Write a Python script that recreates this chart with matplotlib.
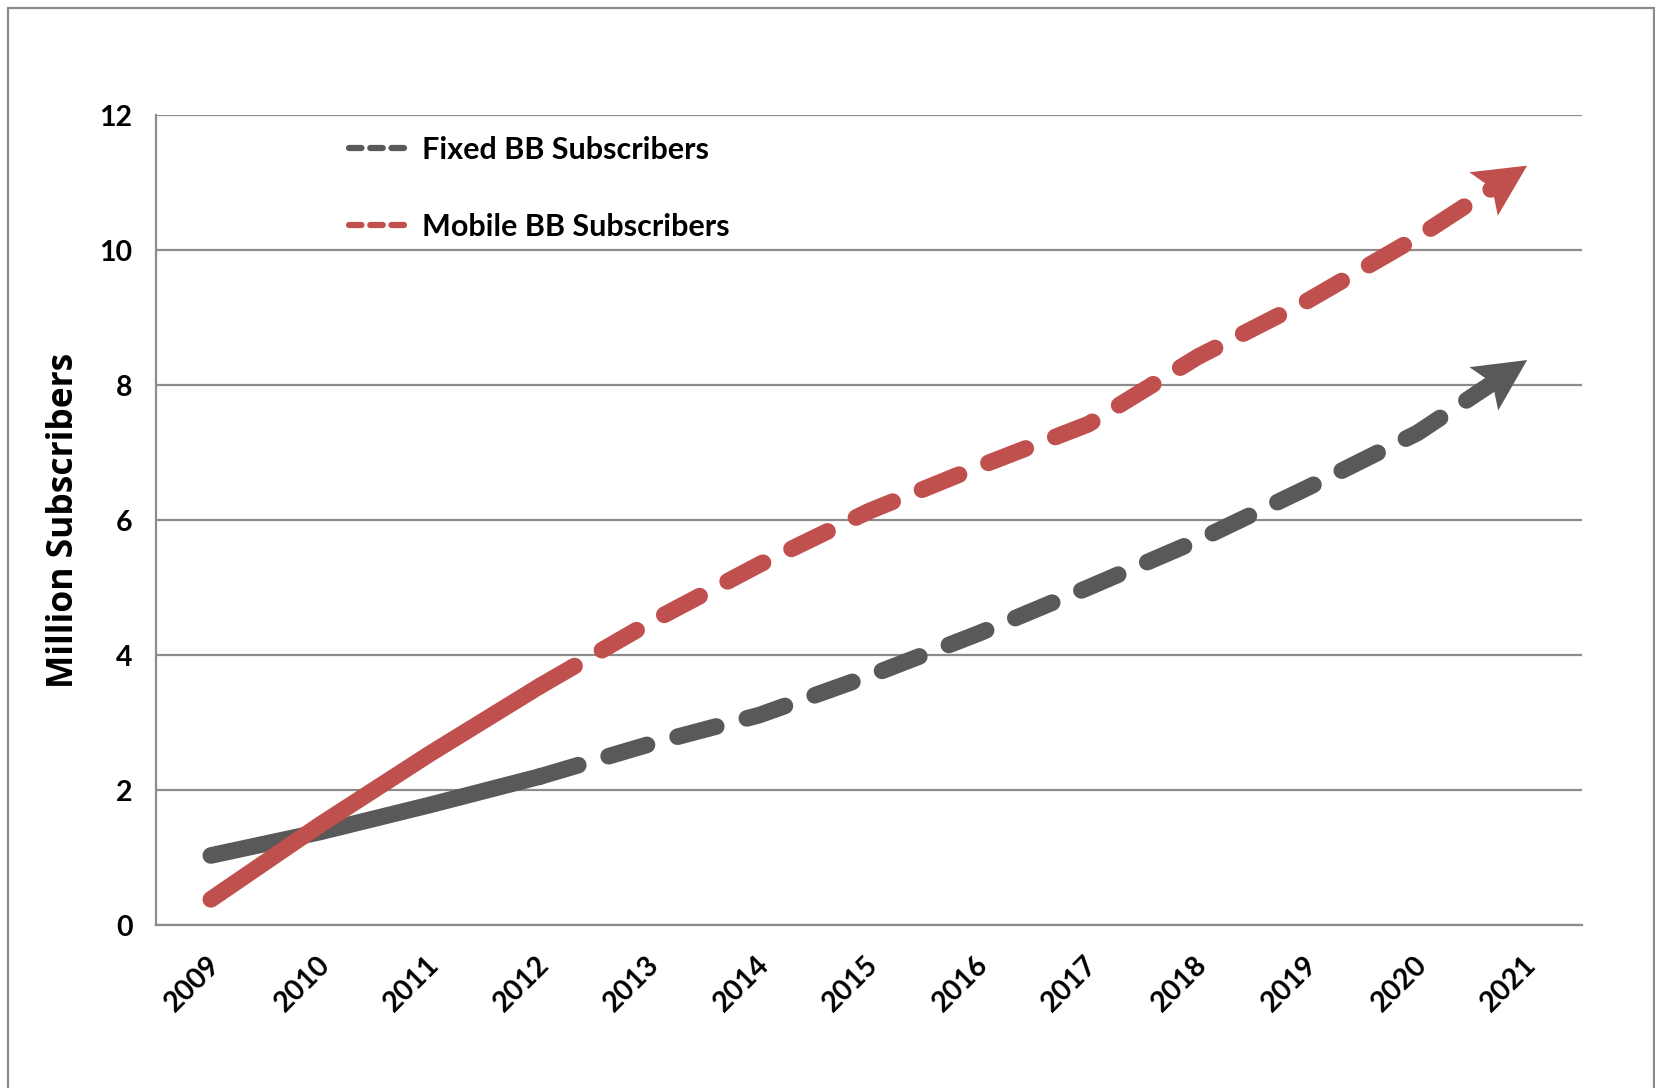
import numpy as np
import matplotlib.pyplot as plt
import matplotlib.transforms as mtrans
from matplotlib.lines import Line2D
from matplotlib.patches import Polygon, Rectangle

years = ['2009', '2010', '2011', '2012', '2013', '2014', '2015',
         '2016', '2017', '2018', '2019', '2020', '2021']
fixed_bb = [1.03, 1.38, 1.78, 2.2, 2.68, 3.11, 3.69, 4.32, 5.0, 5.7, 6.48, 7.29, 8.37]
mobile_bb = [0.38, 1.49, 2.54, 3.54, 4.48, 5.34, 6.13, 6.79, 7.42, 8.42, 9.25, 10.19, 11.25]

c_fixed = '#595959'
c_mobile = '#c0504d'
c_grid = '#8c8c8c'
tick_font = 'Lato'

fig = plt.figure(figsize=(16.56, 10.88), dpi=100)
ax = fig.add_axes([0.0942, 0.1498, 0.8611, 0.7445])
ax.set_xlim(-0.5, len(years) - 0.5)
ax.set_ylim(0, 12)

x = np.arange(len(years))
lw = 12.0


def draw_series(vals, col):
	vals = np.array(vals, dtype=float)
	# solid part 2009-2012
	ax.plot(x[:4], vals[:4], color=col, lw=lw, solid_capstyle='round', solid_joinstyle='round', zorder=3)
	# arrow head in pixel space (stealth shape), line stops at its notch
	tip = ax.transData.transform((x[-1], vals[-1]))
	prev = ax.transData.transform((x[-2], vals[-2]))
	u = (tip - prev) / np.hypot(*(tip - prev))
	n = np.array([-u[1], u[0]])
	L, W = 52.0, 26.0
	head_px = [tip, tip - L * u + W * n, tip - 0.8 * L * u, tip - L * u - W * n]
	head = ax.transData.inverted().transform(head_px)
	end = ax.transData.inverted().transform(tip - 0.8 * L * u)
	xd = np.append(x[3:-1], end[0])
	yd = np.append(vals[3:-1], end[1])
	ax.plot(xd, yd, color=col, lw=lw, linestyle=(0, (2.4, 1.9)), dash_capstyle='round', zorder=3)
	ax.add_patch(Polygon(head, closed=True, color=col, lw=0, zorder=4))


draw_series(fixed_bb, c_fixed)
draw_series(mobile_bb, c_mobile)

ax.set_yticks(np.arange(0, 13, 2))
ax.set_xticks(x)
ax.tick_params(axis='both', length=0)
ax.tick_params(axis='y', pad=17)
ax.tick_params(axis='x', pad=19)
ax.set_xticklabels(years, rotation=45, ha='right', rotation_mode='anchor',
	fontsize=20.5, fontweight='bold', family=tick_font)
shift = mtrans.ScaledTranslation(-4 / 100, 0, fig.dpi_scale_trans)
for lab in ax.get_xticklabels():
	lab.set_transform(lab.get_transform() + shift)
for lab in ax.get_yticklabels():
	lab.set_fontsize(20.5)
	lab.set_fontweight('bold')
	lab.set_family(tick_font)

ax.grid(axis='y', color=c_grid, lw=1.6)
ax.set_axisbelow(True)
for s in ['top', 'right']:
	ax.spines[s].set_visible(False)
for s in ['left', 'bottom']:
	ax.spines[s].set_color(c_grid)
	ax.spines[s].set_linewidth(1.6)

ax.set_ylabel('Million Subscribers', fontsize=25.5, fontweight='bold', family='Open Sans')
ax.yaxis.set_label_coords(-0.052, 0.5)

handles = [Line2D([], [], color=c_fixed, lw=4.5, linestyle=(0, (2.0, 1.4)), dash_capstyle='round'),
	Line2D([], [], color=c_mobile, lw=4.5, linestyle=(0, (2.0, 1.4)), dash_capstyle='round')]
leg = ax.legend(handles, ['Fixed BB Subscribers', 'Mobile BB Subscribers'],
	loc='upper left', bbox_to_anchor=(0.116, 1.008), frameon=False,
	prop={'family': tick_font, 'weight': 'bold', 'size': 22},
	handlelength=2.0, handletextpad=0.4, labelspacing=1.6)

# outer chart frame
fig.patches.append(Rectangle((8 / 1656, -0.05), 1646 / 1656, 1.05 - 8 / 1088,
	transform=fig.transFigure, fill=False, edgecolor=c_grid, lw=1.6))

fig.savefig('out.png', dpi=100)
